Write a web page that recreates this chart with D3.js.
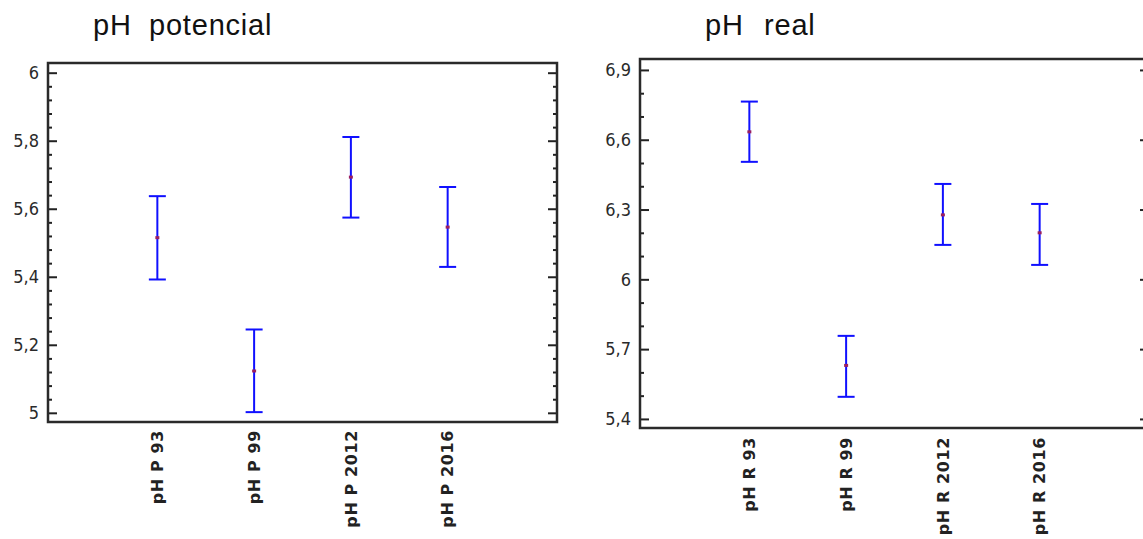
<!DOCTYPE html>
<html>
<head>
<meta charset="utf-8">
<script src="https://cdn.jsdelivr.net/npm/d3@7"></script>
<style>
  html, body { margin: 0; padding: 0; background: #fff; }
  svg { display: block; }
</style>
</head>
<body>
<svg id="chart" width="1143" height="539"></svg>
<script>
// Potential pH: group means with interval limits
const categoriesP = ["pH P 93", "pH P 99", "pH P 2012", "pH P 2016"];
const meanP  = [5.515, 5.123, 5.693, 5.546];
const lowerP = [5.392, 5.002, 5.574, 5.429];
const upperP = [5.637, 5.245, 5.811, 5.664];
const majorTicksP = [5, 5.2, 5.4, 5.6, 5.8, 6];
const domainP = [4.973, 6.0285];

// Real pH: group means with interval limits
const categoriesR = ["pH R 93", "pH R 99", "pH R 2012", "pH R 2016"];
const meanR  = [6.634, 5.630, 6.277, 6.200];
const lowerR = [6.505, 5.495, 6.148, 6.062];
const upperR = [6.764, 5.757, 6.410, 6.324];
const majorTicksR = [5.4, 5.7, 6, 6.3, 6.6, 6.9];
const domainR = [5.361, 6.947];

const svg = d3.select("#chart");
const fmt = d => (+d.toFixed(2)).toString().replace(".", ",");

function minorTicks(majors, parts) {
  const out = [];
  for (let i = 0; i < majors.length - 1; i++) {
    const step = (majors[i + 1] - majors[i]) / parts;
    for (let k = 1; k < parts; k++) out.push(majors[i] + step * k);
  }
  return out;
}

function drawPanel(opt) {
  const g = svg.append("g");
  const x = d3.scalePoint().domain(opt.categories).range([opt.left, opt.right]).padding(1.13);
  const y = d3.scaleLinear().domain(opt.domain).range([opt.bottom, opt.top]);
  const minors = minorTicks(opt.majors, opt.minorParts);

  // title
  g.append("text")
    .attr("y", opt.titleY)
    .attr("font-family", "Liberation Sans, Arial, sans-serif")
    .attr("font-size", 29)
    .attr("letter-spacing", 0.8)
    .attr("fill", "#111")
    .selectAll("tspan")
    .data(opt.title)
    .join("tspan")
    .attr("x", d => d.x)
    .text(d => d.t);

  // major ticks + labels on the left axis (ticks point inward)
  const leftMajor = g.append("g")
    .attr("transform", `translate(${opt.left},0)`)
    .call(d3.axisLeft(y).tickValues(opt.majors).tickSize(-9).tickPadding(9).tickFormat(fmt));
  leftMajor.select(".domain").remove();
  leftMajor.selectAll("line").attr("stroke", "#222").attr("stroke-width", 2);
  leftMajor.selectAll("text")
    .attr("font-family", "DejaVu Sans Condensed, DejaVu Sans, sans-serif")
    .attr("font-size", 18)
    .attr("fill", "#2a2a2a");

  const leftMinor = g.append("g")
    .attr("transform", `translate(${opt.left},0)`)
    .call(d3.axisLeft(y).tickValues(minors).tickSize(-4).tickFormat(""));
  leftMinor.select(".domain").remove();
  leftMinor.selectAll("line").attr("stroke", "#222").attr("stroke-width", 2);

  // mirrored ticks on the right border
  const rightMajor = g.append("g")
    .attr("transform", `translate(${opt.right},0)`)
    .call(d3.axisRight(y).tickValues(opt.majors).tickSize(-9).tickFormat(""));
  rightMajor.select(".domain").remove();
  rightMajor.selectAll("line").attr("stroke", "#222").attr("stroke-width", 2);

  const rightMinor = g.append("g")
    .attr("transform", `translate(${opt.right},0)`)
    .call(d3.axisRight(y).tickValues(minors).tickSize(-4).tickFormat(""));
  rightMinor.select(".domain").remove();
  rightMinor.selectAll("line").attr("stroke", "#222").attr("stroke-width", 2);

  // frame
  g.append("rect")
    .attr("x", opt.left).attr("y", opt.top)
    .attr("width", opt.right - opt.left).attr("height", opt.bottom - opt.top)
    .attr("fill", "none").attr("stroke", "#2a2a2a").attr("stroke-width", 2.5);

  // category labels, rotated
  g.append("g").selectAll("text")
    .data(opt.categories)
    .join("text")
    .attr("transform", d => `translate(${x(d)},${opt.bottom + opt.labelGap}) rotate(-90)`)
    .attr("text-anchor", "end")
    .attr("dy", "0.36em")
    .attr("font-family", "DejaVu Sans, sans-serif")
    .attr("font-weight", "bold")
    .attr("font-size", 16)
    .attr("letter-spacing", 0.6)
    .attr("fill", "#222")
    .text(d => d);

  // interval bars
  const rows = opt.categories.map((c, i) => ({ c, m: opt.mean[i], lo: opt.lower[i], hi: opt.upper[i] }));
  const bars = g.append("g").selectAll("g").data(rows).join("g");
  const cap = 8.5;
  bars.append("line")
    .attr("x1", d => x(d.c)).attr("x2", d => x(d.c))
    .attr("y1", d => y(d.lo)).attr("y2", d => y(d.hi))
    .attr("stroke", "#1010ff").attr("stroke-width", 2);
  bars.append("line")
    .attr("x1", d => x(d.c) - cap).attr("x2", d => x(d.c) + cap)
    .attr("y1", d => y(d.hi)).attr("y2", d => y(d.hi))
    .attr("stroke", "#1010ff").attr("stroke-width", 2);
  bars.append("line")
    .attr("x1", d => x(d.c) - cap).attr("x2", d => x(d.c) + cap)
    .attr("y1", d => y(d.lo)).attr("y2", d => y(d.lo))
    .attr("stroke", "#1010ff").attr("stroke-width", 2);
  bars.append("rect")
    .attr("x", d => x(d.c) - 2).attr("y", d => y(d.m) - 1.5)
    .attr("width", 4).attr("height", 3)
    .attr("fill", "#9a2060");
}

drawPanel({
  categories: categoriesP, mean: meanP, lower: lowerP, upper: upperP,
  majors: majorTicksP, minorParts: 5, domain: domainP,
  left: 48, right: 557, top: 63, bottom: 422, labelGap: 8,
  titleY: 35, title: [{ t: "pH", x: 93 }, { t: "potencial", x: 149 }]
});

drawPanel({
  categories: categoriesR, mean: meanR, lower: lowerR, upper: upperR,
  majors: majorTicksR, minorParts: 3, domain: domainR,
  left: 640, right: 1149, top: 59, bottom: 428, labelGap: 9,
  titleY: 35, title: [{ t: "pH", x: 705 }, { t: "real", x: 764 }]
});
</script>
</body>
</html>
